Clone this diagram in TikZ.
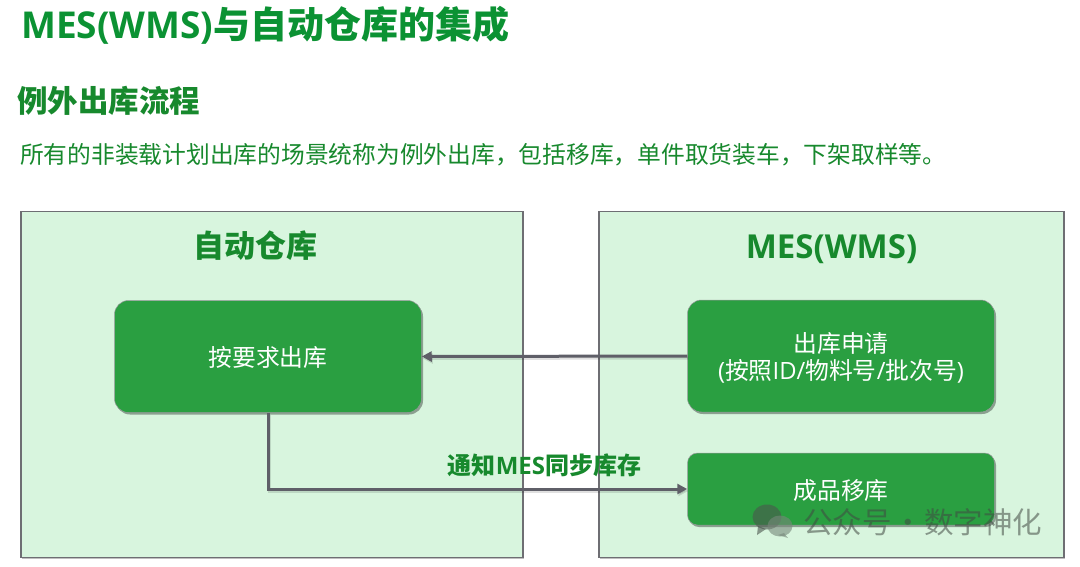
\documentclass[tikz,border=0pt]{standalone}
\usepackage{fontspec}
\setmainfont{Open Sans}
\newfontfamily\cjk{Noto Sans CJK SC}
\usetikzlibrary{shadows,arrows.meta}
\definecolor{titlegreen}{HTML}{0B9233}
\definecolor{headgreen}{HTML}{17892D}
\definecolor{panelfill}{HTML}{D8F5DE}
\definecolor{panelline}{HTML}{6E6E73}
\definecolor{nodegreen}{HTML}{2A9F41}
\definecolor{linkgray}{HTML}{5F5F68}
\newcommand{\lowered}[2][1.2pt]{\raisebox{-#1}[\height][\depth]{#2}}
\tikzset{
  x=1pt,y=-1pt,
  panel/.style={draw=panelline,line width=1.1pt,fill=panelfill,
    drop shadow={shadow xshift=1.2pt,shadow yshift=-1.5pt,opacity=.25,fill=black}},
  stepbox/.style={rounded corners=14pt,fill=nodegreen,draw=panelline!70,line width=.5pt,
    align=center,text=white,font=\fontsize{23.8}{30}\selectfont\cjk,
    drop shadow={shadow xshift=1.5pt,shadow yshift=-2pt,opacity=.35,fill=black}},
  smallbox/.style={stepbox,rounded corners=10pt},
  link/.style={draw=linkgray,line width=3pt,-{Triangle[length=10pt,width=10pt]},
    preaction={draw=black,opacity=.12,line width=3pt,transform canvas={xshift=1pt,yshift=-2pt}}},
  caption/.style={anchor=base west,inner sep=0pt},
  paneltitle/.style={text=headgreen,inner sep=0pt,anchor=base,font=\fontsize{33}{38}\selectfont\bfseries},
  mark text/.style={text=black!70!panelfill,opacity=.55,inner sep=0pt,anchor=base west,font=\fontsize{29.5}{34}\selectfont\cjk},
}
\begin{document}
\begin{tikzpicture}
\useasboundingbox (0,0) rectangle (1080,566);
\fill[white] (0,0) rectangle (1080,566);

% headings
\node[caption,text=titlegreen,font=\fontsize{37}{42}\selectfont\bfseries] (title) at (21,38)
  {MES(WMS){\cjk 与自动仓库的集成}};
\node[caption,text=headgreen,font=\fontsize{30.5}{36}\selectfont\bfseries\cjk] (subtitle) at (17,112) {例外出库流程};
\node[caption,text=headgreen,font=\fontsize{23.75}{30}\selectfont\cjk] (intro) at (20,163)
  {所有的非装载计划出库的场景统称为例外出库，包括移库，单件取货装车，下架取样等。};

% the two systems
\node[panel,minimum width=502pt,minimum height=346pt,inner sep=0pt] (wh) at (272,384.5) {};
\node[panel,minimum width=465pt,minimum height=346pt,inner sep=0pt] (mes) at (831.5,384.5) {};
\node[paneltitle,font=\fontsize{31}{36}\selectfont\bfseries\cjk] (whT) at (255,257) {自动仓库};
\node[paneltitle] (mesT) at (831.5,258.5) {MES(WMS)};

% process steps
\node[stepbox,minimum width=307pt,minimum height=112pt,inner sep=0pt] (pick) at (268,356.5) {\lowered{按要求出库}};
\node[stepbox,minimum width=307pt,minimum height=112pt,inner sep=0pt] (req) at (841,356)
  {\lowered[3.5pt]{\begin{tabular}{@{}c@{}}出库申请\\[-3pt]{\rmfamily(}按照{\rmfamily ID/}物料号{\rmfamily /}批次号{\rmfamily)}\end{tabular}}};
\node[smallbox,minimum width=307pt,minimum height=72pt,inner sep=0pt] (move) at (841,489) {\lowered{成品移库}};

% connectors
\draw[link] (req.west) -- (pick.east);
\coordinate (corner) at (pick.south |- move.west);
\draw[link] (pick.south) -- (corner) -- (move.west);
\node[anchor=base,inner sep=0pt,text=headgreen,font=\fontsize{24}{28}\selectfont\bfseries] (note) at (544.5,474.5)
  {{\cjk 通知}MES{\cjk 同步库存}};

% watermark
\begin{scope}[opacity=.6]
\fill[black!65!panelfill] (767,517) ellipse [x radius=14.5pt,y radius=12.5pt];
\fill[black!65!panelfill] (758,526) -- (757,535) -- (766,529) -- cycle;
\fill[black!45!panelfill] (780,526) ellipse [x radius=12.5pt,y radius=10.5pt];
\fill[black!45!panelfill] (784,533) -- (788,538) -- (778,535) -- cycle;
\end{scope}
\node[mark text] (mark) at (803,533) {公众号\hspace{1.5pt}·\hspace{1.5pt}数字神化};
\end{tikzpicture}
\end{document}
